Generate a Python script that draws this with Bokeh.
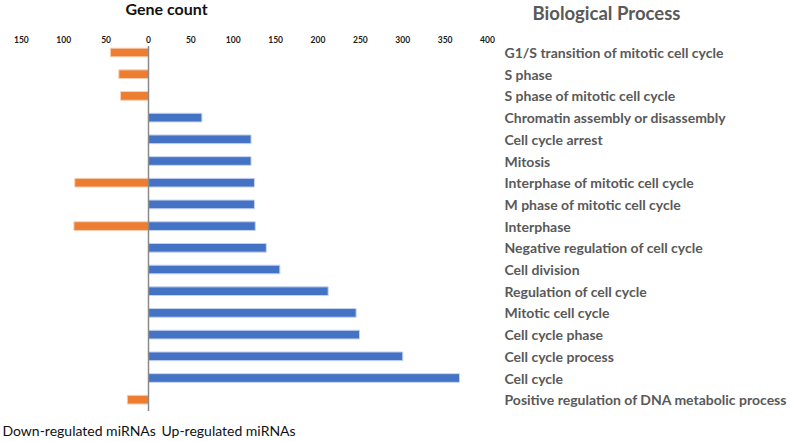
from bokeh.plotting import figure
from bokeh.layouts import row
from bokeh.models import Range1d, FixedTicker, CustomJSTickFormatter, LinearAxis, ColumnDataSource
from bokeh.core.properties import value
from bokeh.embed import file_html
from bokeh.resources import INLINE

processes = [
    "G1/S transition of mitotic cell cycle",
    "S phase",
    "S phase of mitotic cell cycle",
    "Chromatin assembly or disassembly",
    "Cell cycle arrest",
    "Mitosis",
    "Interphase of mitotic cell cycle",
    "M phase of mitotic cell cycle",
    "Interphase",
    "Negative regulation of cell cycle",
    "Cell division",
    "Regulation of cell cycle",
    "Mitotic cell cycle",
    "Cell cycle phase",
    "Cell cycle process",
    "Cell cycle",
    "Positive regulation of DNA metabolic process",
]
up_regulated = [0, 0, 0, 63, 121, 121, 125, 125, 126, 139, 155, 212, 245, 249, 300, 367, 0]
down_regulated = [45, 35, 33, 0, 0, 0, 87, 0, 88, 0, 0, 0, 0, 0, 0, 0, 25]
tick_values = [-150, -100, -50, 0, 50, 100, 150, 200, 250, 300, 350, 400]

rows = list(range(len(processes)))
up_rows = [r for r, v in zip(rows, up_regulated) if v > 0]
up_vals = [v for v in up_regulated if v > 0]
dn_rows = [r for r, v in zip(rows, down_regulated) if v > 0]
dn_vals = [-v for v in down_regulated if v > 0]

H = 441
WL, WR = 495, 295
FRAME_TOP = 3
SHIFT = 1.5
px_per_unit = 0.8475
zero_px = 148
row_px = 21.7
row0_px = 53.5


def row_at(px):
    return (px - row0_px) / row_px


y_range = Range1d(row_at(H + SHIFT), row_at(FRAME_TOP + SHIFT))


def base_fig(width, x_range):
    f = figure(width=width, height=H, output_backend="svg", toolbar_location=None,
               x_range=x_range, y_range=y_range,
               x_axis_location=None, y_axis_location=None,
               min_border_left=0, min_border_right=0, min_border_bottom=0,
               min_border_top=FRAME_TOP)
    f.outline_line_color = None
    f.xgrid.visible = False
    f.ygrid.visible = False
    f.border_fill_color = "white"
    f.background_fill_color = "white"
    return f


# ---- left: bars ----
p = base_fig(WL, Range1d(-zero_px / px_per_unit, (WL - zero_px) / px_per_unit))
ax = LinearAxis(ticker=FixedTicker(ticks=tick_values),
                formatter=CustomJSTickFormatter(code="return Math.abs(tick).toString();"),
                fixed_location=row_at(45))
ax.axis_line_color = None
ax.major_tick_line_color = None
ax.minor_tick_line_color = None
ax.major_tick_out = 0
ax.major_tick_in = 0
ax.major_label_standoff = 1
ax.major_label_text_font = "Lato"
ax.major_label_text_font_style = "bold"
ax.major_label_text_font_size = "8.5px"
ax.major_label_text_color = "#1a1a1a"
p.add_layout(ax, "above")

p.hbar(y=up_rows, left=0, right=up_vals, height=0.4, fill_color="#4472C4",
       line_color="#c5d3ee", line_width=1)
p.hbar(y=dn_rows, left=0, right=dn_vals, height=0.4, fill_color="#ED7D31",
       line_color="#f7cfb3", line_width=1)
p.segment(x0=[0], y0=[-0.30], x1=[0], y1=[16.52], line_color="#8a8a8a", line_width=1.5)

p.text(x=[(166 - zero_px) / px_per_unit], y=[row_at(9.5)], text=["Gene count"], text_font=value("Lato"),
       text_font_style="bold", text_font_size="16px", text_color="#111111",
       text_baseline="middle", text_align="center")
p.text(x=[-172.3], y=[17.40], text=["Down-regulated miRNAs"], text_font=value("Lato"),
       text_font_size="14px", text_color="#111111", text_baseline="middle", text_align="left")
p.text(x=[15.3], y=[17.40], text=["Up-regulated miRNAs"], text_font=value("Lato"),
       text_font_size="14px", text_color="#111111", text_baseline="middle", text_align="left")

# ---- right: process names ----
q = base_fig(WR, Range1d(0, WR))
q.text(x=[111], y=[row_at(13.5)], text=["Biological Process"], text_font=value("Lato"),
       text_font_style="bold", text_font_size="18.5px", text_color="#595959",
       text_baseline="middle", text_align="center")

src = ColumnDataSource(dict(x=[9] * len(processes), y=rows, t=processes))
q.text(x="x", y="y", text="t", source=src, text_font=value("Lato"), text_font_style="bold",
       text_font_size="14px", text_color="#595959", text_baseline="middle", text_align="left")

layout = row(p, q, spacing=0)
open("out.html", "w").write(file_html(layout, INLINE))
